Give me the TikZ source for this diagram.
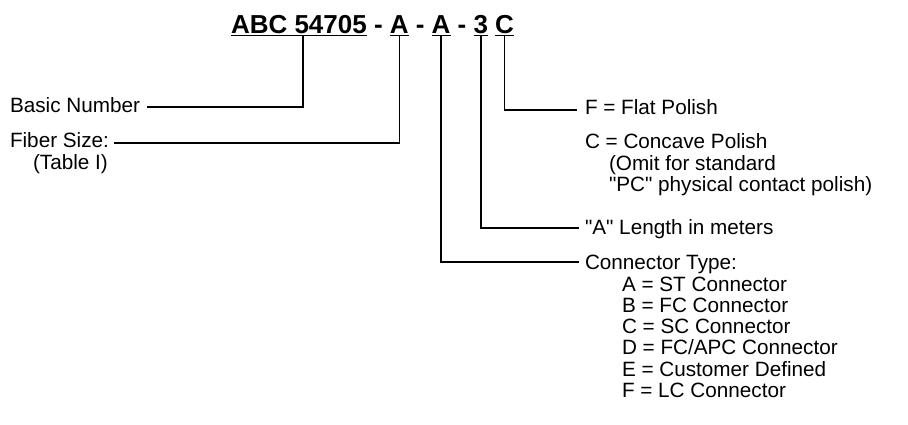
\documentclass[tikz,border=0pt]{standalone}
\usepackage{fontspec}
\setmainfont{Liberation Sans}
\tikzset{
  lbl/.style={anchor=base west, inner sep=0pt, outer sep=0pt, font=\fontsize{20.7}{21.3}\selectfont},
  ttl/.style={anchor=base west, inner sep=0pt, outer sep=0pt, font=\fontsize{26}{30}\selectfont\bfseries},
  conn/.style={line width=1.6pt, line cap=rect},
  uline/.style={line width=1.6pt}
}
\begin{document}
\begin{tikzpicture}[x=1pt,y=-1pt]
\useasboundingbox (0,0) rectangle (908,424);
% title
\node[ttl] (t1) at (231,33) {ABC 54705};
\node[ttl] (s1) at ([xshift=7.2pt]t1.base east) {-};
\node[ttl] (t2) at ([xshift=7.2pt]s1.base east) {A};
\node[ttl] (s2) at ([xshift=7.2pt]t2.base east) {-};
\node[ttl] (t3) at ([xshift=7.2pt]s2.base east) {A};
\node[ttl] (s3) at ([xshift=7.2pt]t3.base east) {-};
\node[ttl] (t4) at ([xshift=7.2pt]s3.base east) {3};
\node[ttl] (t5) at ([xshift=7.2pt]t4.base east) {C};
\foreach \n in {t1,t2,t3,t4,t5}
  \draw[uline] ([yshift=-2.6pt]\n.base west) -- ([yshift=-2.6pt]\n.base east);
% left labels
\node[lbl] (bn) at (10,112.5) {Basic Number};
\node[lbl] (fs) at (10,147.5) {Fiber Size:};
\node[lbl] (tb) at (33,169) {(Table I)};
% right labels
\node[lbl] (fp) at (585,114.5) {F = Flat Polish};
\node[lbl] (cp) at (585,148.5) {C = Concave Polish};
\node[lbl] (om) at (609,170) {(Omit for standard};
\node[lbl] (pc) at (609,191.3) {\textquotedbl PC\textquotedbl{} physical contact polish)};
\node[lbl] (al) at (585,234.5) {\textquotedbl A\textquotedbl{} Length in meters};
\node[lbl] (ct) at (585,269) {Connector Type:};
\node[lbl] (ca) at (622,291) {A = ST Connector};
\node[lbl] (cb) at (622,312.3) {B = FC Connector};
\node[lbl] (cc) at (622,333.6) {C = SC Connector};
\node[lbl] (cd) at (622,354.9) {D = FC/APC Connector};
\node[lbl] (ce) at (622,376.2) {E = Customer Defined};
\node[lbl] (cf) at (622,397.5) {F = LC Connector};
% connectors
\draw[conn] ([xshift=8pt,yshift=5.5pt]bn.base east) -| ([xshift=72pt,yshift=-3.4pt]t1.base west);
\draw[conn] ([xshift=6pt,yshift=4.5pt]fs.base east) -| ([yshift=-3.4pt]t2.base);
\draw[conn] ([yshift=-3.4pt]t5.base) |- ([xshift=-9pt,yshift=4.5pt]fp.base west);
\draw[conn] ([yshift=-3.4pt]t4.base) |- ([xshift=-7pt,yshift=6.5pt]al.base west);
\draw[conn] ([yshift=-3.4pt]t3.base) |- ([xshift=-7pt,yshift=7pt]ct.base west);
\end{tikzpicture}
\end{document}
